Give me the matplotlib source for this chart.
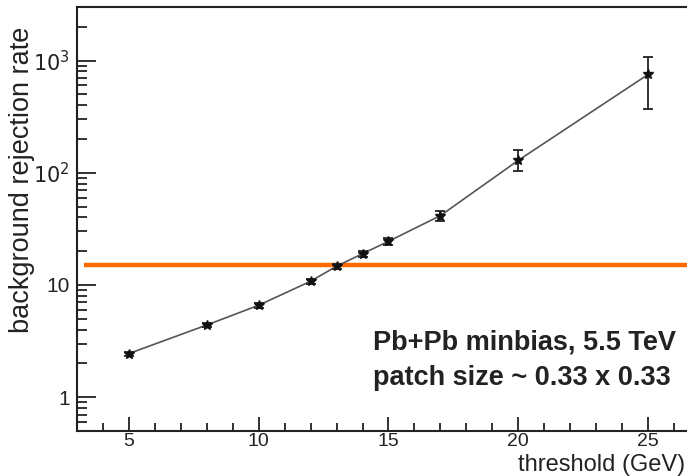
import matplotlib
matplotlib.use("Agg")
import matplotlib.pyplot as plt
from matplotlib.ticker import LogLocator, FixedLocator, MultipleLocator, NullFormatter, FixedFormatter

plt.rcParams['font.family'] = ['Liberation Sans', 'DejaVu Sans']

threshold = [5, 8, 10, 12, 13, 14, 15, 17, 20, 25]
rate = [2.45, 4.4, 6.6, 10.8, 14.7, 19.0, 24.5, 41.5, 129, 752]
err_lo = [0.1, 0.15, 0.3, 0.5, 0.8, 1.2, 1.6, 4.5, 26, 385]
err_hi = [0.1, 0.15, 0.3, 0.5, 0.8, 1.2, 1.6, 4.5, 29, 330]
cut_level = 15
ytick_vals = [1, 10, 100, 1000]
ytick_labels = ["1", "10", "$10^2$", "$10^3$"]
xtick_vals = [5, 10, 15, 20, 25]

fig = plt.figure(figsize=(6.87, 4.76), dpi=100)
W, H = 687, 476
ax = fig.add_axes([77 / W, 45 / H, 623 / W, 424 / H])

ax.set_yscale('log')
ax.set_xlim(3, 27)
ax.set_ylim(0.5, 3000)

ax.plot([3.27, 27], [cut_level, cut_level], color='#ff6a00', lw=3.2, solid_capstyle='butt', zorder=2)
ax.plot(threshold, rate, color='#555555', lw=1.2, zorder=3)
ax.errorbar(threshold, rate, yerr=[err_lo, err_hi], fmt='none', ecolor='#222222',
            elinewidth=1.3, capsize=3.5, capthick=1.3, zorder=4)
ax.plot(threshold, rate, ls='none', marker='*', ms=7.5, color='#111111', zorder=5)

ax.yaxis.set_major_locator(FixedLocator(ytick_vals))
ax.yaxis.set_major_formatter(FixedFormatter(ytick_labels))
ax.yaxis.set_minor_locator(LogLocator(base=10, subs=range(2, 10)))
ax.yaxis.set_minor_formatter(NullFormatter())
ax.xaxis.set_major_locator(FixedLocator(xtick_vals))
ax.xaxis.set_minor_locator(MultipleLocator(1))

ax.tick_params(axis='y', which='major', direction='in', length=14, width=1.3, labelsize=15, colors='#222222', pad=5)
ax.tick_params(axis='y', which='minor', direction='in', length=7, width=1.3, colors='#222222')
ax.tick_params(axis='x', which='major', direction='in', length=10, width=1.3, labelsize=14, colors='#222222', pad=1.5)
ax.tick_params(axis='x', which='minor', direction='in', length=5.5, width=1.3, colors='#222222')

for s in ['left', 'bottom', 'top']:
    ax.spines[s].set_linewidth(1.5)
    ax.spines[s].set_color('#222222')
ax.spines['right'].set_visible(False)

fig.text(22 / W, 1 - 180 / H, "background rejection rate", rotation=90, ha='center', va='center',
         fontsize=19.5, color='#222222')
fig.text(685 / W, 0.5 / H, "threshold (GeV)", ha='right', va='bottom', fontsize=17, color='#222222')

fig.text(373 / W, 1 - 343 / H, "Pb+Pb minbias, 5.5 TeV", ha='left', va='center', fontsize=19.5,
         fontweight='bold', color='#222222')
fig.text(373 / W, 1 - 378 / H, "patch size ~ 0.33 x 0.33", ha='left', va='center', fontsize=19.5,
         fontweight='bold', color='#222222')

fig.savefig("out.png", dpi=100)
